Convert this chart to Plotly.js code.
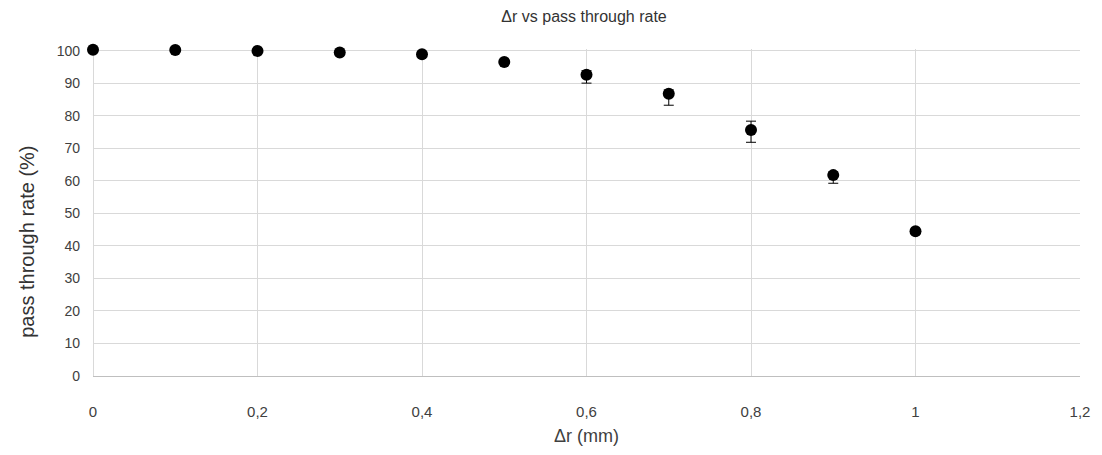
<!DOCTYPE html>
<html><head><meta charset="utf-8">
<script src="https://cdn.plot.ly/plotly-3.0.1.min.js"></script>
<style>html,body{margin:0;padding:0;background:#fff}#chart{width:1102px;height:455px}</style>
</head><body><div id="chart"></div>
<script>
const deltaR = [0, 0.1, 0.2, 0.3, 0.4, 0.5, 0.6, 0.7, 0.8, 0.9, 1.0];
const passRate = [100.4, 100.3, 100, 99.5, 99, 96.6, 92.7, 86.8, 75.7, 61.8, 44.5];
const errPlus = [0, 0, 0, 0, 0, 0, 1.2, 1.2, 2.7, 1.0, 0.5];
const errMinus = [0, 0, 0, 0, 0, 0, 2.6, 3.5, 3.8, 2.5, 0.5];
const xTicks = [0, 0.2, 0.4, 0.6, 0.8, 1, 1.2];
const xTickText = ['0', '0,2', '0,4', '0,6', '0,8', '1', '1,2'];
const yTicks = [0, 10, 20, 30, 40, 50, 60, 70, 80, 90, 100];

const font = '"Liberation Sans", Arial, sans-serif';
Plotly.newPlot('chart', [{
  x: deltaR, y: passRate, type: 'scatter', mode: 'markers',
  marker: {color: '#000', size: 12},
  error_y: {type: 'data', symmetric: false, array: errPlus, arrayminus: errMinus, color: '#000', thickness: 1, width: 5},
  cliponaxis: false, showlegend: false
}], {
  width: 1102, height: 455,
  margin: {l: 93, r: 22, t: 49, b: 79},
  paper_bgcolor: '#fff', plot_bgcolor: '#fff',
  font: {family: font, color: '#404040'},
  title: {text: 'Δr vs pass through rate', x: 0.53, xanchor: 'center', y: 0.965, yanchor: 'middle', font: {size: 16, color: '#333', family: font}},
  xaxis: {range: [0, 1.2], tickvals: xTicks, ticktext: xTickText, showgrid: true, gridcolor: '#d9d9d9', gridwidth: 1,
    zeroline: true, zerolinecolor: '#d9d9d9', zerolinewidth: 1, showline: false, ticks: '', ticklabelstandoff: 25, tickfont: {size: 15, color: '#404040'},
    title: {text: 'Δr (mm)', font: {size: 18, color: '#404040'}, standoff: 10}},
  yaxis: {range: [0, 100.6], tickvals: yTicks, showgrid: true, gridcolor: '#d9d9d9', gridwidth: 1,
    zeroline: true, zerolinecolor: '#bfbfbf', zerolinewidth: 1, showline: false, ticks: '', ticklabelstandoff: 12,
    tickfont: {size: 14, color: '#404040'}},
  annotations: [{text: 'pass through rate (%)', xref: 'paper', yref: 'paper', x: -0.067, y: 0.41, xanchor: 'center', yanchor: 'middle',
    textangle: -90, showarrow: false, font: {size: 20, color: '#333', family: font}}]
}, {displayModeBar: false, staticPlot: true});
</script></body></html>
